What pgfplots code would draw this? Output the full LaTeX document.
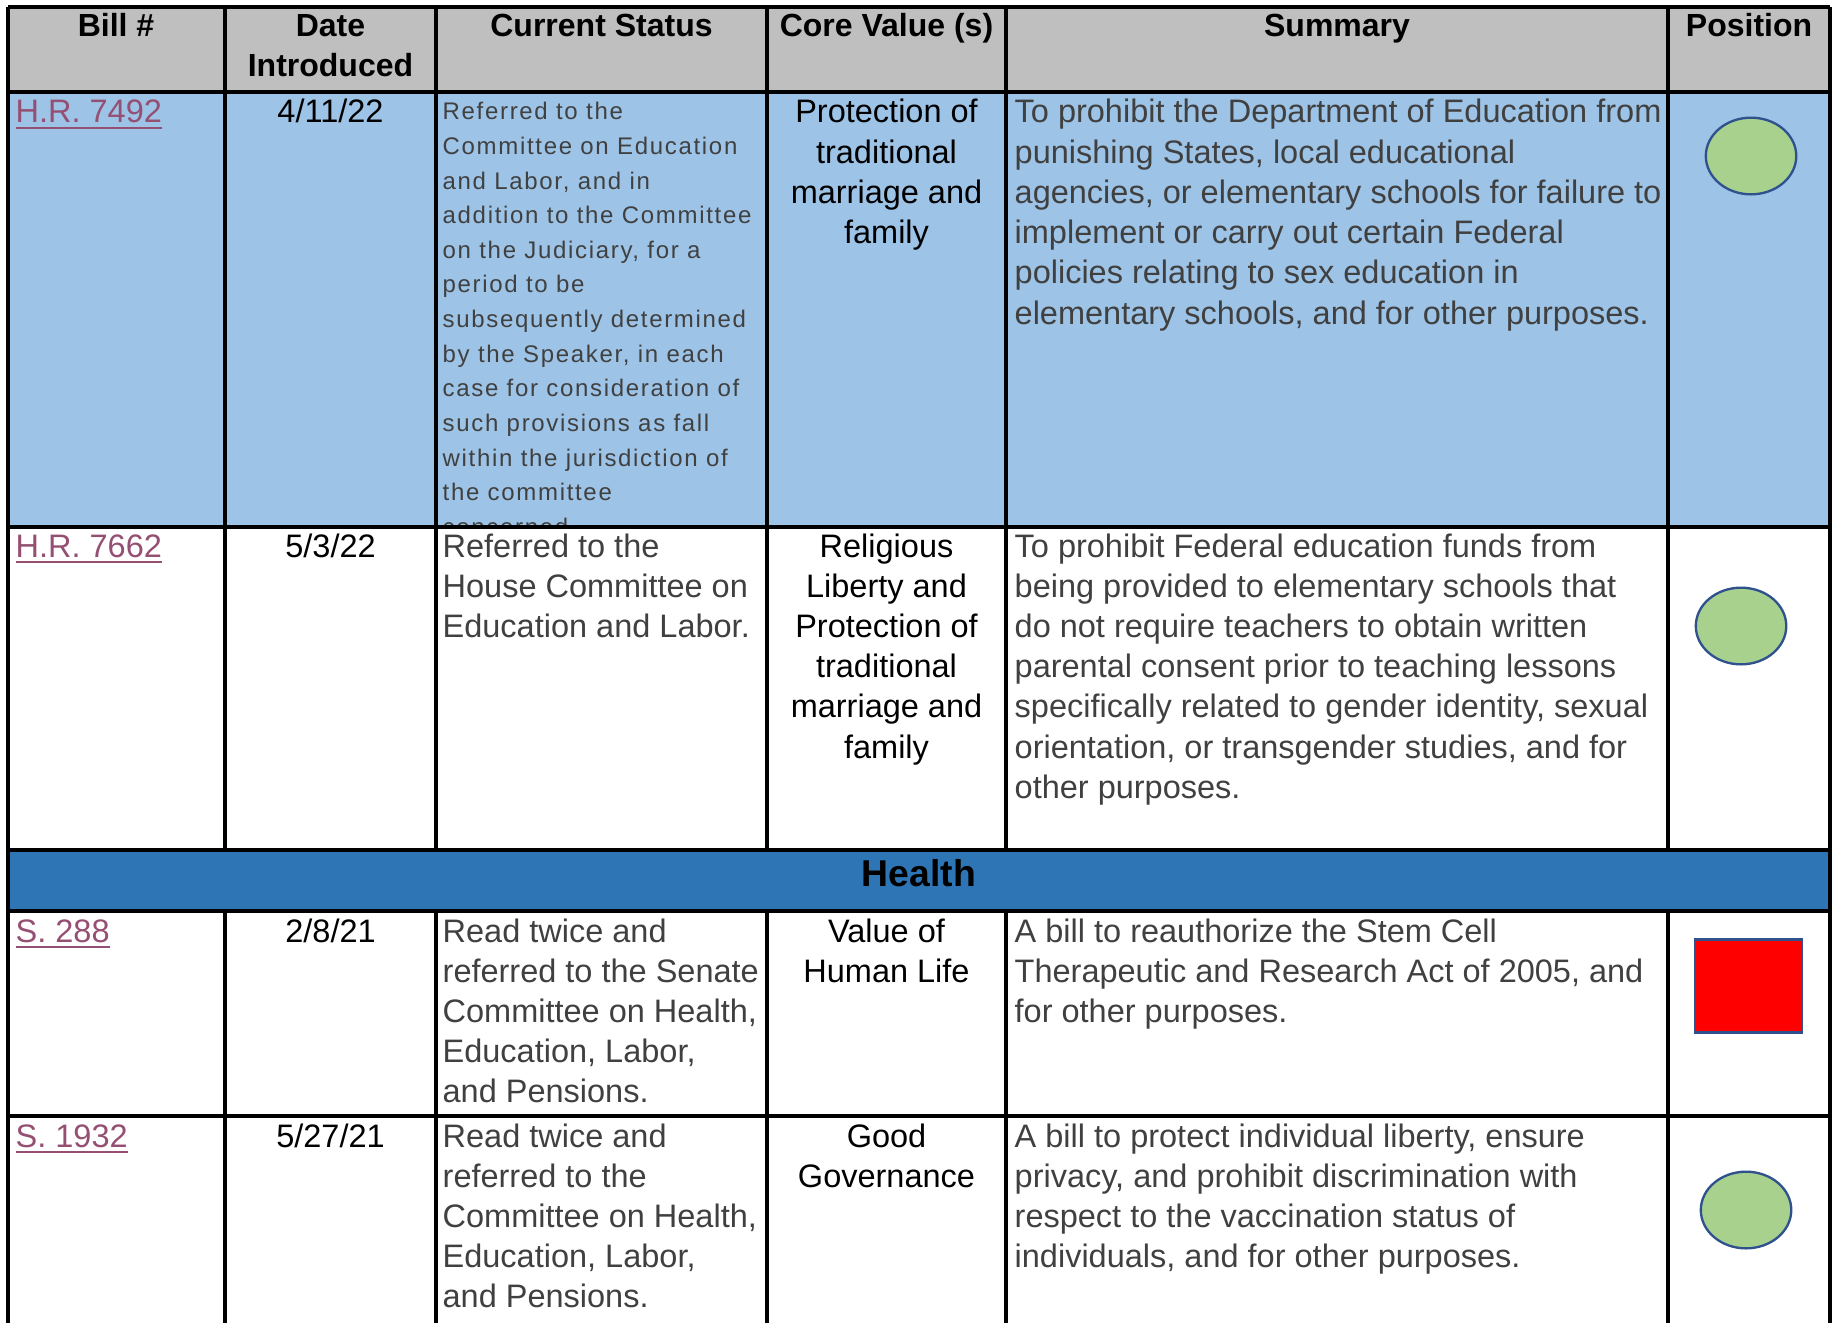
\documentclass[border=0pt]{standalone}
\usepackage{pgfplots}
\pgfplotsset{compat=1.18}
\usepackage{fontspec}
\setmainfont{Liberation Sans}
\newfontfamily\spaced[LetterSpace=7]{Liberation Sans}
\definecolor{hdrgray}{HTML}{BFBFBF}
\definecolor{rowblue}{HTML}{9DC3E6}
\definecolor{bandblue}{HTML}{2E75B6}
\definecolor{txtgray}{HTML}{404040}
\definecolor{linkc}{HTML}{954F72}
\definecolor{posgreen}{HTML}{A9D18E}
\definecolor{posblue}{HTML}{2F528F}
\tikzset{
  body/.style={font=\fontsize{9.75pt}{11.94pt}\selectfont, text=txtgray},
  blk/.style={font=\fontsize{9.75pt}{11.94pt}\selectfont, text=black},
  hdr/.style={font=\bfseries\fontsize{9.6pt}{11.94pt}\selectfont, text=black},
  small/.style={font=\spaced\fontsize{7.2pt}{10.4pt}\selectfont, text=txtgray},
  lnk/.style={font=\fontsize{9.75pt}{11.94pt}\selectfont, text=linkc},
}
% #1 x, #2 first baseline, #3 step, #4 anchor, #5 style, #6 list of lines
\newcommand\lines[6]{%
  \foreach \t [count=\i from 0] in {#6} {\node[anchor=#4, inner sep=0pt, #5] at (#1,{#2+\i*#3}) {\t};}}
\begin{document}
\begin{tikzpicture}
\begin{scope}[x=0.3pt, y=-0.3pt, shift={(0pt,396.9pt)}]
% backgrounds and header
\fill[hdrgray] (8,7) rectangle (1830,92);
\lines{116}{37}{40}{base}{hdr}{Bill \#}
\lines{330.5}{37}{40}{base}{hdr}{Date, Introduced}
\lines{601.5}{37}{40}{base}{hdr}{Current Status}
\lines{886.5}{37}{40}{base}{hdr}{Core Value (s)}
\lines{1337}{37}{40}{base}{hdr}{Summary}
\lines{1749}{37}{40}{base}{hdr}{Position}
% row 1
\fill[rowblue] (8,92) rectangle (1830,527);
\lines{15}{123}{40.2}{base west}{lnk}{\underline{H.R. 7492}}
\lines{330.5}{123}{40.2}{base}{blk}{4/11/22}
\begin{scope}
\clip (436,92) rectangle (767,527);
\lines{442}{120}{34.6}{base west}{small}{Referred to the, Committee on Education, {and Labor, and in}, addition to the Committee, {on the Judiciary, for a}, period to be, subsequently determined, {by the Speaker, in each}, case for consideration of, such provisions as fall, within the jurisdiction of, the committee, concerned}
\end{scope}
\lines{886.5}{123}{40.2}{base}{blk}{Protection of, traditional, marriage and, family}
\lines{1014}{123}{40.2}{base west}{body}{To prohibit the Department of Education from, {punishing States, local educational}, {agencies, or elementary schools for failure to}, implement or carry out certain Federal, policies relating to sex education in, {elementary schools, and for other purposes.}}
% row 2
\fill[white] (8,527) rectangle (1830,850);
\lines{15}{557}{40.2}{base west}{lnk}{\underline{H.R. 7662}}
\lines{330.5}{557}{40.2}{base}{blk}{5/3/22}
\lines{442}{557}{40.2}{base west}{body}{Referred to the, House Committee on, Education and Labor.}
\lines{886.5}{557}{40.2}{base}{blk}{Religious, Liberty and, Protection of, traditional, marriage and, family}
\lines{1014}{557}{40.2}{base west}{body}{To prohibit Federal education funds from, being provided to elementary schools that, do not require teachers to obtain written, parental consent prior to teaching lessons, {specifically related to gender identity, sexual}, {orientation, or transgender studies, and for}, other purposes.}
% Health band
\fill[bandblue] (8,850) rectangle (1830,911);
\node[anchor=base, inner sep=0pt, font=\bfseries\fontsize{11.2pt}{13pt}\selectfont, text=black] at (919,886) {Health};
% row 3
\lines{15}{942}{40.2}{base west}{lnk}{\underline{S. 288}}
\lines{330.5}{942}{40.2}{base}{blk}{2/8/21}
\lines{442}{942}{40.2}{base west}{body}{Read twice and, referred to the Senate, {Committee on Health,}, {Education, Labor,}, and Pensions.}
\lines{886.5}{942}{40.2}{base}{blk}{Value of, Human Life}
\lines{1014}{942}{40.2}{base west}{body}{A bill to reauthorize the Stem Cell, {Therapeutic and Research Act of 2005, and}, for other purposes.}
% row 4
\lines{15}{1147}{40.2}{base west}{lnk}{\underline{S. 1932}}
\lines{330.5}{1147}{40.2}{base}{blk}{5/27/21}
\lines{442}{1147}{40.2}{base west}{body}{Read twice and, referred to the, {Committee on Health,}, {Education, Labor,}, and Pensions.}
\lines{886.5}{1147}{40.2}{base}{blk}{Good, Governance}
\lines{1014}{1147}{40.2}{base west}{body}{{A bill to protect individual liberty, ensure}, {privacy, and prohibit discrimination with}, respect to the vaccination status of, {individuals, and for other purposes.}}
% grid lines
\draw[line width=1.1pt] (8,7) -- (1830,7) (8,92) -- (1830,92) (8,527) -- (1830,527)
  (8,850) -- (1830,850) (8,911) -- (1830,911) (8,1116) -- (1830,1116);
\foreach \xx in {8,1830} {\draw[line width=1.1pt] (\xx,7) -- (\xx,1323);}
\foreach \xx in {225,436,767,1006,1668} {\draw[line width=1.1pt] (\xx,7) -- (\xx,850) (\xx,911) -- (\xx,1323);}
\end{scope}
\begin{axis}[at={(0pt,0pt)}, anchor=south west, width=550.8pt, height=396.9pt,
  scale only axis, xmin=0, xmax=1836, ymin=0, ymax=1323, y dir=reverse,
  hide axis, clip=false]
\addplot[only marks, mark=*, mark size=11.5pt,
  mark options={xscale=1.18, fill=posgreen, draw=posblue, line width=0.7pt}]
  coordinates {(1751,156) (1741,626) (1746,1210)};
\addplot[only marks, mark=square*, mark size=14.0pt,
  mark options={xscale=1.147, fill=red, draw=posblue, line width=0.8pt}]
  coordinates {(1748.5,986)};
\end{axis}
\pgfresetboundingbox
\useasboundingbox (0pt,0pt) rectangle (550.8pt,396.9pt);
\end{tikzpicture}
\end{document}
